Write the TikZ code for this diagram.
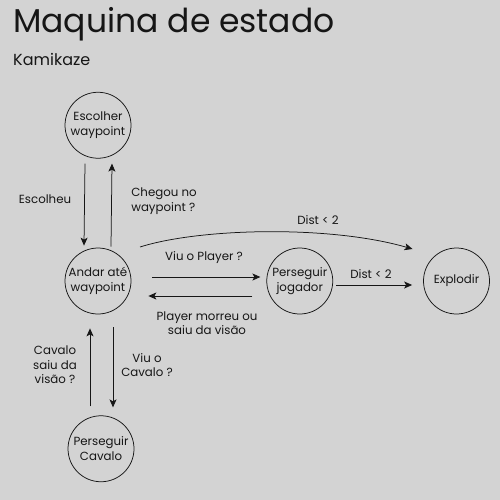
\documentclass[tikz,border=0pt]{standalone}
\usepackage{fontspec}
\setmainfont{Poppins}
\usepackage{tikz}
\usetikzlibrary{positioning,arrows.meta}
\definecolor{bggray}{RGB}{211,211,211}
\definecolor{ink}{RGB}{22,22,22}

\begin{document}
\begin{tikzpicture}[
  x=1pt, y=-1pt,
  font=\fontsize{11.8}{14.5}\selectfont,
  state/.style={draw=ink, circle, minimum size=66pt, inner sep=0pt, align=center, line width=0.75pt, text=ink},
  lbl/.style={align=center, inner sep=1pt, text=ink},
  arr/.style={-{Stealth[length=8pt,width=7pt,inset=2pt]}, line width=0.75pt, draw=ink},
  node distance=89pt]
\fill[bggray] (0,0) rectangle (500,500);
\useasboundingbox (0,0) rectangle (500,500);
\node[anchor=base west, inner sep=0pt, text=ink, font=\fontsize{33}{38}\selectfont] (title) at (13,33) {Maquina de estado};
\node[anchor=base west, inner sep=0pt, text=ink, font=\fontsize{16}{19}\selectfont] (subtitle) at (13,66) {Kamikaze};
% states
\node[state] (andar) at (98,281) {Andar até\\waypoint};
\node[state, above=89pt of andar] (escolher) {Escolher\\waypoint};
\node[state, right=135pt of andar] (perseguir) {Perseguir\\jogador};
\node[state, right=90pt of perseguir] (explodir) {Explodir};
\node[state, below=101pt of andar, xshift=3pt] (cavalo) {Perseguir\\Cavalo};
% transitions
\draw[arr] ([xshift=-13pt,yshift=-5pt]escolher.south) -- ([xshift=-14pt,yshift=2pt]andar.north);
\draw[arr] ([xshift=13pt,yshift=1pt]andar.north) -- ([xshift=14pt,yshift=-5pt]escolher.south);
\draw[arr] ([xshift=21pt,yshift=4pt]andar.east) -- ([xshift=-6pt,yshift=4pt]perseguir.west);
\draw[arr] ([xshift=-14pt,yshift=-15pt]perseguir.west) -- ([xshift=17pt,yshift=-15pt]andar.east);
\draw[arr] ([xshift=3pt,yshift=-4pt]perseguir.east) -- ([xshift=-11pt,yshift=-4pt]explodir.west);
\draw[arr] ([xshift=42pt,yshift=34pt]andar.center) .. controls (200,228) and (330,225) .. ([xshift=-44pt,yshift=32pt]explodir.center);
\draw[arr] ([xshift=15pt,yshift=-13pt]andar.south) -- ([xshift=12pt,yshift=8pt]cavalo.north);
\draw[arr] ([xshift=-11pt,yshift=9pt]cavalo.north) -- ([xshift=-8pt,yshift=-14pt]andar.south);
% labels
\node[lbl] (escolheu) at (45,199) {Escolheu};
\node[lbl, align=left] (chegou) at (164,201) {Chegou no\\waypoint ?};
\node[lbl] (viuplayer) at (204,258) {Viu o Player ?};
\node[lbl] (morreu) at (207,323) {Player morreu ou\\saiu da visão};
\node[lbl] (dist) at (371,274) {Dist < 2};
\node[lbl] (distcurva) at (318,220) {Dist < 2};
\node[lbl] (viucavalo) at (147,365) {Viu o\\Cavalo ?};
\node[lbl] (saiu) at (55,365) {Cavalo\\saiu da\\visão ?};
\end{tikzpicture}
\end{document}
